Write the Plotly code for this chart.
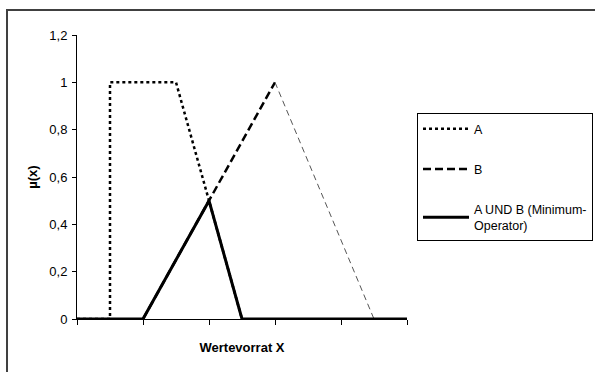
import plotly.graph_objects as go

# Membership functions over the value range X (0..10)
a_x = [0, 1, 1, 3, 5]
a_y = [0, 0, 1, 1, 0]

b_x = [2, 6, 9]
b_y = [0, 1, 0]

and_x = [0, 2, 4, 5, 10]
and_y = [0, 0, 0.5, 0, 0]

y_ticks = [0, 0.2, 0.4, 0.6, 0.8, 1.0, 1.2]
x_ticks = [0, 2, 4, 6, 8, 10]

FONT = "Liberation Sans, Arial, sans-serif"
FS = 13
LEG_FS = 12.5

fig = go.Figure()

fig.add_trace(go.Scatter(
    x=a_x, y=a_y, mode="lines", name="A", legendgroup="a",
    line=dict(color="black", width=2.5, dash="3px,3px"),
))
# rising flank of B (drawn bold), falling flank (drawn thin)
fig.add_trace(go.Scatter(
    x=b_x[:2], y=b_y[:2], mode="lines", name="B", legendgroup="b",
    line=dict(color="black", width=2.5, dash="8px,4px"),
))
fig.add_trace(go.Scatter(
    x=b_x[1:], y=b_y[1:], mode="lines", name="B", legendgroup="b",
    showlegend=False,
    line=dict(color="#555555", width=1, dash="6px,4px"),
))
fig.add_trace(go.Scatter(
    x=and_x, y=and_y, mode="lines", name="A UND B (Minimum-<br>Operator)",
    legendgroup="c",
    line=dict(color="black", width=3),
))

fig.update_layout(
    width=595, height=372,
    margin=dict(l=77, r=188, t=35, b=53),
    paper_bgcolor="white", plot_bgcolor="white",
    font=dict(family=FONT, size=FS, color="black"),
    showlegend=True,
    legend=dict(
        xref="container", yref="container",
        x=417 / 595, y=1 - 113 / 372, xanchor="left", yanchor="top",
        bordercolor="black", borderwidth=1, bgcolor="white",
        tracegroupgap=21, itemwidth=46,
        font=dict(family=FONT, size=LEG_FS, color="black"),
        traceorder="grouped",
    ),
    xaxis=dict(
        range=[0, 10], tickvals=x_ticks, showticklabels=False,
        ticks="outside", ticklen=5, tickcolor="black",
        showline=True, linecolor="black", linewidth=1,
        showgrid=False, zeroline=False, fixedrange=True,
        title=dict(text="<b>Wertevorrat X</b>", standoff=18,
                   font=dict(family=FONT, size=FS)),
        automargin=False,
    ),
    yaxis=dict(
        range=[0, 1.2], tickvals=y_ticks,
        ticktext=[("%g" % v).replace(".", ",") for v in y_ticks],
        ticks="outside", ticklen=4, tickcolor="black",
        showline=True, linecolor="black", linewidth=1,
        showgrid=False, zeroline=False, fixedrange=True,
        ticklabelstandoff=2,
        tickfont=dict(family=FONT, size=FS),
        title=dict(text="<b>µ(x)</b>", standoff=8,
                   font=dict(family=FONT, size=FS)),
        automargin=False,
    ),
    shapes=[dict(
        type="rect", xref="paper", yref="paper",
        x0=-0.2121, x1=3.0, y0=-1.0, y1=1.088,
        line=dict(color="#404040", width=2), fillcolor="rgba(0,0,0,0)",
        layer="below",
    )],
)

fig.write_html("out.html")
